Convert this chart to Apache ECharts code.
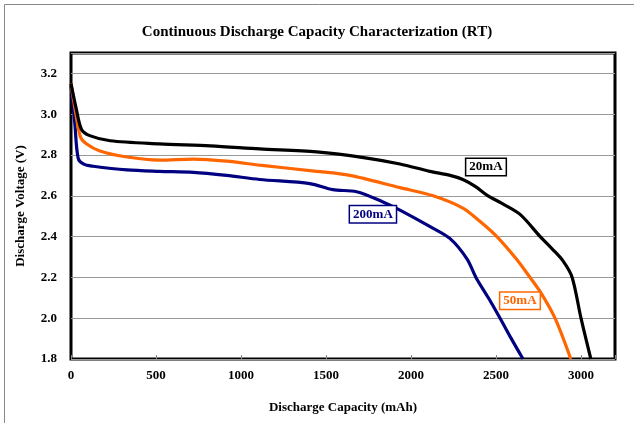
<!DOCTYPE html>
<html>
<head>
<meta charset="utf-8">
<script src="https://cdn.jsdelivr.net/npm/echarts@6/dist/echarts.min.js"></script>
<style>
  html, body { margin: 0; padding: 0; background: #fff; }
  #chart { width: 634px; height: 423px; }
</style>
</head>
<body>
<div id="chart"></div>
<script>
// capacity (mAh), voltage (V)
var cap20 = [0, 30, 62, 110, 230, 520, 820, 1110, 1445, 1740, 1935, 2110, 2230, 2305, 2380, 2453, 2530, 2640, 2760, 2830, 2895, 2948, 3000, 3058];
var volt20 = [3.15, 3.03, 2.925, 2.895, 2.87, 2.855, 2.845, 2.83, 2.815, 2.785, 2.756, 2.72, 2.70, 2.68, 2.645, 2.60, 2.565, 2.51, 2.40, 2.34, 2.28, 2.2, 2.0, 1.8];

var cap50 = [0, 25, 55, 90, 170, 330, 520, 720, 915, 1110, 1445, 1640, 1935, 2130, 2305, 2405, 2505, 2620, 2700, 2760, 2847, 2940];
var volt50 = [3.15, 3.02, 2.89, 2.855, 2.82, 2.79, 2.775, 2.78, 2.77, 2.75, 2.72, 2.70, 2.64, 2.60, 2.54, 2.475, 2.40, 2.29, 2.2, 2.13, 2.0, 1.8];

var cap200 = [0, 22, 42, 75, 130, 330, 520, 720, 915, 1110, 1405, 1540, 1680, 1835, 1935, 2110, 2230, 2330, 2382, 2455, 2524, 2590, 2659];
var volt200 = [3.14, 2.96, 2.785, 2.755, 2.745, 2.727, 2.72, 2.715, 2.70, 2.68, 2.66, 2.63, 2.62, 2.57, 2.53, 2.45, 2.39, 2.29, 2.2, 2.1, 2.0, 1.9, 1.8];

var seriesNames = ["20mA", "50mA", "200mA"];
var labelPos = [[2441, 2.741], [2641, 2.086], [1776, 2.51]];

function pairs(xs, ys) {
  return xs.map(function (x, i) { return [x, ys[i]]; });
}

var colors = ["#000000", "#FF6600", "#000080"];
var serif = "Liberation Serif";
var lines = [pairs(cap20, volt20), pairs(cap50, volt50), pairs(cap200, volt200)];

var chart = echarts.init(document.getElementById("chart"));
var option = {
  animation: false,
  backgroundColor: "#fff",
  title: {
    text: "Continuous Discharge Capacity Characterization (RT)",
    left: "center",
    top: 20,
    textStyle: { fontFamily: serif, fontWeight: "bold", fontSize: 15, color: "#000" }
  },
  graphic: [{
    type: "rect",
    shape: { x: 4.5, y: 4.5, width: 700, height: 500 },
    style: { fill: "none", stroke: "#888", lineWidth: 1 },
    silent: true
  }],
  grid: {
    left: 71, right: 19, top: 53, bottom: 64,
    show: true, borderColor: "#000", borderWidth: 3, backgroundColor: "transparent"
  },
  xAxis: {
    type: "value",
    min: 0, max: 3200, interval: 500,
    name: "Discharge Capacity (mAh)",
    nameLocation: "middle",
    nameGap: 42,
    nameTextStyle: { fontFamily: serif, fontWeight: "bold", fontSize: 13, color: "#000" },
    axisLine: { show: false },
    axisTick: { show: true, inside: true, length: 4, lineStyle: { color: "#888" } },
    splitLine: { show: false },
    axisLabel: {
      fontFamily: serif, fontWeight: "bold", fontSize: 13, color: "#000", margin: 10,
      formatter: function (v) { return v > 3000 ? "" : String(v); }
    }
  },
  yAxis: {
    type: "value",
    min: 1.8, max: 3.3, interval: 0.2,
    name: "Discharge Voltage (V)",
    nameLocation: "middle",
    nameGap: 44,
    nameTextStyle: { fontFamily: serif, fontWeight: "bold", fontSize: 13, color: "#000" },
    axisLine: { show: false },
    axisTick: { show: false },
    splitLine: { show: true, lineStyle: { color: "#999", width: 1 } },
    axisLabel: {
      fontFamily: serif, fontWeight: "bold", fontSize: 13, color: "#000", margin: 14,
      formatter: function (v) { return v > 3.25 ? "" : v.toFixed(1); }
    }
  },
  series: lines.map(function (d, i) {
    return {
      name: seriesNames[i],
      type: "line",
      data: d,
      showSymbol: false,
      smooth: 0.3,
      z: 3 - i,
      lineStyle: { color: colors[i], width: 3.2 },
      markPoint: {
        symbol: "rect",
        symbolSize: 0,
        data: [{ coord: labelPos[i] }],
        label: {
          show: true,
          position: "inside",
          formatter: seriesNames[i],
          fontFamily: serif, fontWeight: "bold", fontSize: 13,
          color: colors[i],
          backgroundColor: "#fff",
          borderColor: colors[i],
          borderWidth: 1.5,
          padding: [2, 3, 1, 3]
        }
      }
    };
  })
};
chart.setOption(option);
</script>
</body>
</html>
